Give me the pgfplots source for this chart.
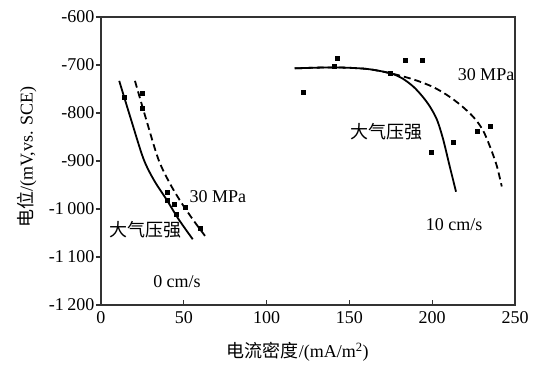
\documentclass[border=0pt]{standalone}
\usepackage{pgfplots}
\pgfplotsset{compat=1.18}
\usepackage{fontspec}
\setmainfont{Liberation Serif}
\newfontfamily\cjk{Noto Sans CJK SC}
\begin{document}
\begin{tikzpicture}
\useasboundingbox (-101pt,-63pt) rectangle (435pt,305pt);
\begin{axis}[
  at={(0,0)}, anchor=south west,
  scale only axis, width=414pt, height=288pt,
  xmin=0, xmax=250, ymin=-1200, ymax=-600,
  xtick={0,50,100,150,200,250},
  ytick={-1200,-1100,-1000,-900,-800,-700,-600},
  yticklabels={-1\hspace{0.2em}200,-1\hspace{0.2em}100,-1\hspace{0.2em}000,-900,-800,-700,-600},
  xtick pos=bottom, ytick pos=left,
  tick align=inside,
  major tick length=5pt,
  ytick style={xshift=-5pt},
  axis line style={line width=1.6pt, black!80},
  tick style={line width=1.2pt, black!80},
  tick label style={font=\fontsize{18}{20}\selectfont},
  /pgf/number format/assume math mode=true,
  xticklabel style={yshift=-3pt},
  yticklabel style={xshift=-3pt},
  xlabel={{\cjk 电流密度}/(mA/m\textsuperscript{2})},
  ylabel={{\cjk 电位}/(mV,vs. SCE)},
  label style={font=\fontsize{18}{20}\selectfont},
  xlabel style={at={(axis description cs:0.475,-0.163)}, anchor=center},
  ylabel style={at={(axis description cs:-0.179,0.514)}, anchor=center},
  clip=false,
]
% left group, atmospheric (solid)
\addplot[black, line width=1.8pt, smooth, mark=none] coordinates {
(11,-733) (18,-812) (25.6,-895) (32,-940) (39.7,-981) (47,-1022) (55.4,-1063)};
% left group, 30 MPa (dashed)
\addplot[black, line width=1.8pt, smooth, dash pattern=on 7pt off 4pt, mark=none] coordinates {
(20.5,-733) (27,-810) (34.5,-895) (41,-943) (48,-984) (55.5,-1022) (62.8,-1056)};
% right group, atmospheric (solid)
\addplot[black, line width=1.8pt, smooth, mark=none] coordinates {
(117,-707) (140,-705) (160,-708) (174.5,-717) (182,-728) (188.6,-745) (194,-765) (198.7,-787) (203,-815) (206.7,-856) (210.5,-910) (214.4,-964)};
% right group, 30 MPa (dashed)
\addplot[black, line width=1.8pt, smooth, dash pattern=on 7pt off 4pt, mark=none] coordinates {
(117,-707) (140,-705) (160,-708) (174.5,-717) (188.6,-730) (200,-745) (208.7,-762) (217,-783) (224.8,-808) (230.5,-835) (234.9,-870) (239,-910) (242,-953)};
% markers
\addplot[only marks, mark=square*, mark size=2pt, black] coordinates {
(14.1,-768) (40,-966) (40,-981) (45.3,-1010)};
\addplot[only marks, mark=square*, mark size=2pt, black] coordinates {
(24.6,-759) (25,-790) (44.1,-990) (50.7,-997) (59.8,-1040)};
\addplot[only marks, mark=square*, mark size=2pt, black] coordinates {
(121.8,-757) (142.7,-685) (183.8,-690) (193.8,-690) (199.3,-881) (212.8,-860) (226.9,-837) (235.3,-828) (141,-703) (174.5,-717)};
% annotations
\node[font=\fontsize{18}{20}\selectfont] at (axis cs:70.6,-975) {30 MPa};
\node[font=\fontsize{18}{20}\selectfont] at (axis cs:232.5,-721) {30 MPa};
\node[font=\fontsize{18}{20}\selectfont\cjk] at (axis cs:26.6,-1044) {大气压强};
\node[font=\fontsize{18}{20}\selectfont\cjk] at (axis cs:172.7,-839) {大气压强};
\node[font=\fontsize{18}{20}\selectfont] at (axis cs:45.9,-1152) {0 cm/s};
\node[font=\fontsize{18}{20}\selectfont] at (axis cs:213.2,-1033) {10 cm/s};
\end{axis}
\end{tikzpicture}
\end{document}
